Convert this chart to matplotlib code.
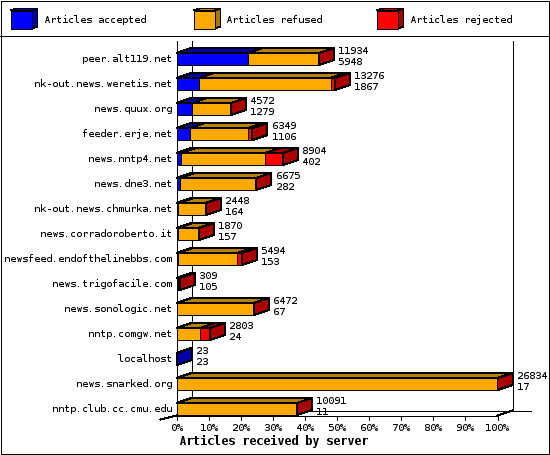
import matplotlib
matplotlib.use('Agg')
import matplotlib.pyplot as plt
from matplotlib.patches import Polygon, Rectangle

plt.rcParams['font.family'] = 'DejaVu Sans Mono'
plt.rcParams['text.antialiased'] = True
plt.rcParams['text.hinting'] = 'native'
plt.rcParams['text.hinting_factor'] = 1

servers = ['peer.alt119.net', 'nk-out.news.weretis.net', 'news.quux.org', 'feeder.erje.net',
           'news.nntp4.net', 'news.dne3.net', 'nk-out.news.chmurka.net', 'news.corradoroberto.it',
           'newsfeed.endofthelinebbs.com', 'news.trigofacile.com', 'news.sonologic.net',
           'nntp.comgw.net', 'localhost', 'news.snarked.org', 'nntp.club.cc.cmu.edu']
received = [11934, 13276, 4572, 6349, 8904, 6675, 2448, 1870, 5494, 309, 6472, 2803, 23, 26834, 10091]
accepted = [5948, 1867, 1279, 1106, 402, 282, 164, 157, 153, 105, 67, 24, 23, 17, 11]
rejected = [30, 400, 30, 350, 1500, 60, 40, 40, 400, 30, 30, 860, 0, 10, 50]
ticks = [0, 10, 20, 30, 40, 50, 60, 70, 80, 90, 100]
legend_names = ['Articles accepted', 'Articles refused', 'Articles rejected']

front = ['#0000ff', '#ffaa00', '#ff0000']
top = ['#0000aa', '#b88000', '#aa0000']
side = ['#0000aa', '#aa7700', '#aa0000']

W, H = 550, 455
X0, X100 = 176.5, 497.5
Y_TOP, Y_BOT = 40.5, 415.5
ROW0, ROW = 59.0, 25.0
DX = 15 / ((X100 - X0) / 100)
DY = 5 / ROW
HALF = 6 / ROW
LW = 0.72
FS = 7.2

fig = plt.figure(figsize=(W / 100, H / 100), dpi=100)

# pixel layer for the frame and the legend
bg = fig.add_axes([0, 0, 1, 1])
bg.set_xlim(0, W)
bg.set_ylim(H, 0)
bg.axis('off')
bg.add_patch(Rectangle((0.5, 0.5), W - 1.6, H - 1.6, fc='white', ec='black', lw=LW, aa=False))
bg.plot([0, W], [35.5, 35.5], color='black', lw=LW, aa=False)

for lx, name, f, t, s in zip([10.5, 193.5, 376.5], legend_names, front, top, side):
    bg.add_patch(Polygon([(lx, 10.5), (lx + 6, 8.5), (lx + 27, 8.5), (lx + 21, 10.5)], fc=t, ec='black', lw=LW, aa=False))
    bg.add_patch(Polygon([(lx + 21, 10.5), (lx + 27, 8.5), (lx + 27, 26.5), (lx + 21, 28.5)], fc=s, ec='black', lw=LW, aa=False))
    bg.add_patch(Rectangle((lx, 10.5), 21, 18, fc=f, ec='black', lw=LW, aa=False))
    bg.text(lx + 33, 20, name, fontsize=FS, va='center', ha='left')

# chart axes: x is percent of the biggest server
ax = fig.add_axes([X0 / W, 1 - Y_BOT / H, (X100 - X0) / W, (Y_BOT - Y_TOP) / H])
ax.set_xlim(0, 100)
ax.set_ylim((Y_BOT - ROW0) / ROW, (Y_TOP - ROW0) / ROW)
ax.patch.set_visible(False)
ax.axis('off')

floor = ax.get_ylim()[0]
ceil = ax.get_ylim()[1]


def line(xs, ys, z=1):
    ax.plot(xs, ys, color='black', lw=LW, aa=False, clip_on=False, zorder=z)


# walls and floor
line([DX, DX], [floor - DY, ceil])
line([100 + DX, 100 + DX], [floor - DY, ceil])
line([DX, 110.5], [floor - DY, floor - DY])
line([100, 100 + DX], [floor, floor - DY])
line([-DX * 1.07, 0], [floor + DY * 0.8, floor], 6)
line([0, 100], [floor, floor], 6)
line([0, 0], [floor, ceil], 6)

scale = max(received)
for i in range(len(servers)):
    refused = received[i] - accepted[i] - rejected[i]
    left = 0
    last = 0
    for k, val in enumerate([accepted[i], refused, rejected[i]]):
        w = val / scale * 100
        if w <= 0:
            continue
        ax.add_patch(Polygon([(left, i - HALF), (left + DX, i - HALF - DY), (left + w + DX, i - HALF - DY), (left + w, i - HALF)],
                             fc=top[k], ec='black', lw=LW, aa=False, clip_on=False, zorder=3))
        ax.add_patch(Rectangle((left, i - HALF), w, 2 * HALF, fc=front[k], ec='black', lw=LW, aa=False, clip_on=False, zorder=4))
        left += w
        last = k
    # only the last segment shows its side
    ax.add_patch(Polygon([(left, i - HALF), (left + DX, i - HALF - DY), (left + DX, i + HALF - DY), (left, i + HALF)],
                         fc=side[last], ec='black', lw=LW, aa=False, clip_on=False, zorder=5))
    ax.text(left + DX + 1.3, i - 8 / ROW, str(received[i]), fontsize=FS, va='center', ha='left', clip_on=False, zorder=7)
    ax.text(left + DX + 1.3, i + 3 / ROW, str(accepted[i]), fontsize=FS, va='center', ha='left', clip_on=False, zorder=7)
    ax.text(-1.4, i, servers[i], fontsize=FS, va='center', ha='right', clip_on=False)

for t in ticks:
    line([t, t], [floor, floor + 4 / ROW], 6)
    ax.text(t, floor + 12.5 / ROW, str(t) + '%', fontsize=FS, va='center', ha='center', clip_on=False)

ax.text(30.3, floor + 25.5 / ROW, 'Articles received by server', fontsize=8.4, fontweight='bold', va='center', ha='center', clip_on=False)

plt.savefig('out.png', dpi=100)
